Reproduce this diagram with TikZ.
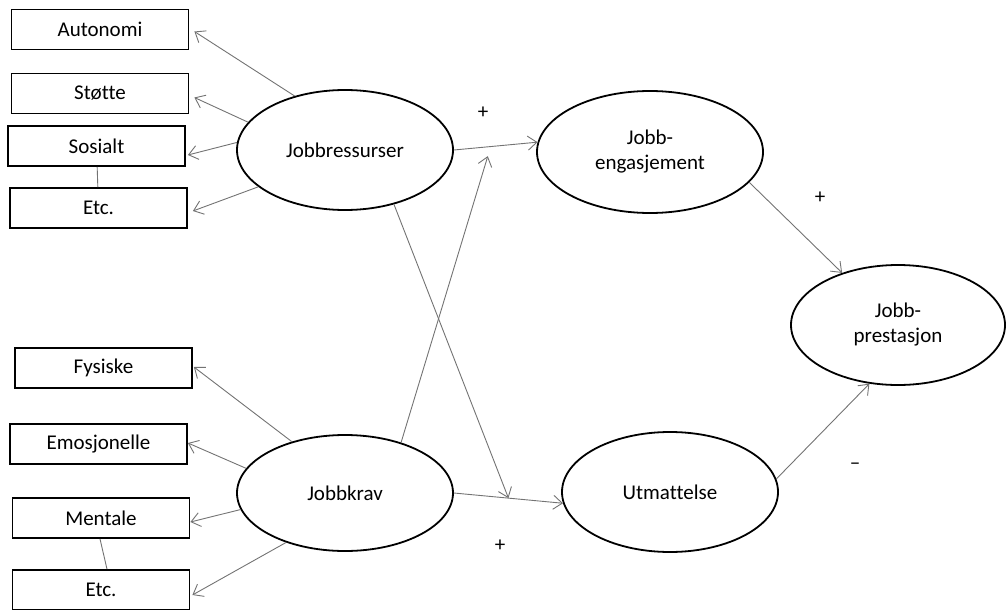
\documentclass[tikz,border=0pt]{standalone}
\usepackage{fontspec}
\setmainfont{Carlito}[Ligatures=NoCommon]
\usetikzlibrary{arrows.meta,shapes.geometric}

\begin{document}
\begin{tikzpicture}[x=1pt,y=-1pt,
        box/.style={draw,line width=1.8pt,minimum width=177pt,minimum height=40pt,inner sep=0pt},
        latent/.style={draw,ellipse,line width=1.8pt,inner sep=0pt,align=center},
        link/.style={draw=black!55,line width=0.9pt,-{Straight Barb[length=9pt,width=14pt]}},
        tie/.style={draw=black!55,line width=0.9pt},
        sign/.style={inner sep=0pt}]
    \fontsize{21}{25}\selectfont
    \useasboundingbox (0,0) rectangle (1006,610);
    % indikatorer
    \node[box] (auto) at (100,29.5) {Autonomi};
    \node[box] (stotte) at (100,93.5) {Støtte};
    \node[box] (sos) at (96.5,146) {Sosialt};
    \node[box] (etcA) at (98.5,208) {Etc.};
    \node[box] (fys) at (103.5,368) {Fysiske};
    \node[box] (emo) at (98.5,444) {Emosjonelle};
    \node[box] (ment) at (101,518) {Mentale};
    \node[box] (etcB) at (101,590) {Etc.};
    % latente
    \node[latent,minimum width=216pt,minimum height=120pt] (res) at (345,150) {Jobbressurser};
    \node[latent,minimum width=216pt,minimum height=116pt] (krav) at (345,493) {Jobbkrav};
    \node[latent,minimum width=226pt,minimum height=122pt] (eng) at (650,152) {Jobb-\\engasjement};
    \node[latent,minimum width=216pt,minimum height=120pt] (utm) at (670,492) {Utmattelse};
    \node[latent,minimum width=214pt,minimum height=120pt] (pres) at (898,325) {Jobb-\\prestasjon};
    % fortegn
    \node[sign] (p1) at (483,113) {+};
    \node[sign] (p2) at (820,198) {+};
    \node[sign] (p3) at (500,546) {+};
    \node[sign] (m1) at (855,466) {--};
    % piler til indikatorer
    \draw[link] (res.133) -- ([shift={(5,2)}]auto.east);
    \draw[link] (res.164) -- ([shift={(5,4)}]stotte.east);
    \draw[link] (res.176) -- ([shift={(2,9)}]sos.east);
    \draw[link] (res.203) -- ([shift={(5,3)}]etcA.east);
    \draw[tie] (sos) -- (etcA);
    \draw[link] (krav.136) -- ([shift={(1,-1)}]fys.east);
    \draw[link] (krav.166) -- ([shift={(0,-1)}]emo.east);
    \draw[link] (krav.189) -- ([shift={(0,4)}]ment.east);
    \draw[link] (krav.220) -- ([shift={(2,5)}]etcB.east);
    \draw[tie] ([xshift=-1pt]ment.south) -- ([xshift=6pt]etcB.north);
    % modellen
    \draw[link] (res.0) -- coordinate[pos=.44] (hitEng) (eng.175);
    \draw[link] (krav.0) -- coordinate[pos=.5] (hitUtm) (utm.186);
    \draw[link,shorten >=10pt] (krav.42) -- (hitEng);
    \draw[link] (res.312) -- (hitUtm);
    \draw[link] (eng.-17) -- (pres.137);
    \draw[link] (utm.7.5) -- (pres.244);
\end{tikzpicture}
\end{document}
